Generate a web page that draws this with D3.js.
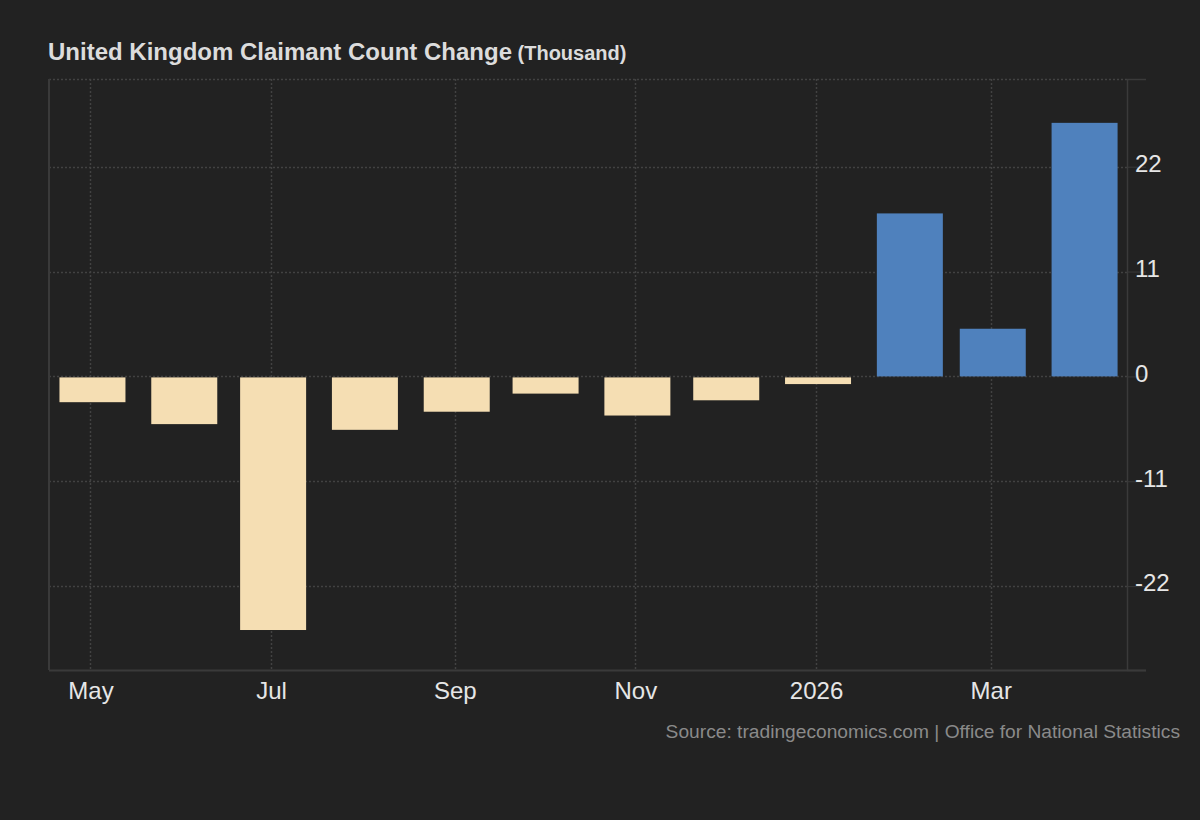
<!DOCTYPE html>
<head>
  <meta charset="utf-8">
  <title>UK Claimant Count Change</title>
  <style>
    body { margin: 0; background: #222222; }
    text { font-family: Arial, "Liberation Sans", sans-serif; }
  </style>
</head>

<script src="https://d3js.org/d3.v7.min.js"></script>

<div id="chart"></div>

<script>
  // monthly data, thousand
  const months = ["2025-05", "2025-06", "2025-07", "2025-08", "2025-09", "2025-10",
                  "2025-11", "2025-12", "2026-01", "2026-02", "2026-03", "2026-04"];
  const values = [-2.6, -4.9, -26.5, -5.5, -3.6, -1.7, -4.0, -2.4, -0.7, 17.1, 5.0, 26.6];
  const yTicks = [-22, -11, 0, 11, 22];
  const xTicks = ["2025-05", "2025-07", "2025-09", "2025-11", "2026-01", "2026-03"];

  const W = 1200, H = 820;
  const plotL = 49, plotR = 1127, plotT = 79, plotB = 670;

  const parse = d3.timeParse("%Y-%m");
  const data = months.map((m, i) => ({ date: parse(m), value: values[i] }));

  const svg = d3.select("#chart").append("svg")
    .attr("width", W)
    .attr("height", H);

  svg.append("rect")
    .attr("width", W).attr("height", H)
    .attr("fill", "#222222");

  const x = d3.scaleTime()
    .domain([new Date(2025, 3, 17), new Date(2026, 3, 16)])
    .range([plotL, plotR]);

  const y = d3.scaleLinear()
    .domain([-30.8, 31.2])
    .range([plotB, plotT]);

  // grid
  const grid = svg.append("g");
  grid.selectAll(".hg")
    .data(yTicks.concat([31.2]))
    .join("line")
      .attr("x1", plotL).attr("x2", plotR)
      .attr("y1", d => Math.round(y(d)) + 0.5).attr("y2", d => Math.round(y(d)) + 0.5)
      .attr("stroke", "#424242")
      .attr("stroke-width", 1.5)
      .attr("stroke-dasharray", "2,2");
  grid.selectAll(".vg")
    .data(xTicks.map(parse))
    .join("line")
      .attr("x1", d => Math.round(x(d)) + 0.5).attr("x2", d => Math.round(x(d)) + 0.5)
      .attr("y1", plotT).attr("y2", plotB)
      .attr("stroke", "#424242")
      .attr("stroke-width", 1.5)
      .attr("stroke-dasharray", "2,2");

  // left border
  svg.append("line")
    .attr("x1", plotL).attr("x2", plotL)
    .attr("y1", plotT).attr("y2", plotB)
    .attr("stroke", "#3a3a3a").attr("stroke-width", 2);

  // bars
  const barW = 66;
  svg.append("g")
    .selectAll("rect")
    .data(data)
    .join("rect")
      .attr("x", d => x(d.date) - barW / 2 + 2)
      .attr("width", barW)
      .attr("y", d => d.value >= 0 ? y(d.value) : y(0) + 1)
      .attr("height", d => Math.abs(y(d.value) - y(0)))
      .attr("fill", d => d.value >= 0 ? "#4f81bd" : "#f5deb3");

  // right axis
  const yAxis = svg.append("g")
    .attr("transform", `translate(${plotR},0)`)
    .call(d3.axisRight(y).tickValues(yTicks.concat([31.2, -30.8])).tickSize(19)
      .tickFormat(d => yTicks.includes(d) ? d : ""));
  yAxis.select(".domain").attr("stroke", "#3a3a3a").attr("stroke-width", 1.5);
  yAxis.selectAll(".tick line").attr("stroke", "#3a3a3a");
  yAxis.selectAll(".tick text")
    .attr("x", 8)
    .attr("dy", "0.2em")
    .attr("fill", "#e6e6e6")
    .attr("font-size", 24)
    .attr("font-family", "Arial, 'Liberation Sans', sans-serif");

  // bottom axis
  svg.append("line")
    .attr("x1", plotL).attr("x2", plotR + 19)
    .attr("y1", plotB + 0.5).attr("y2", plotB + 0.5)
    .attr("stroke", "#3a3a3a").attr("stroke-width", 2);

  const xAxis = svg.append("g")
    .attr("transform", `translate(0,${plotB})`)
    .call(d3.axisBottom(x).tickValues(xTicks.map(parse)).tickSize(0)
      .tickFormat(d => d.getMonth() === 0 ? d3.timeFormat("%Y")(d) : d3.timeFormat("%b")(d)));
  xAxis.select(".domain").remove();
  xAxis.selectAll(".tick text")
    .attr("y", 12)
    .attr("fill", "#e6e6e6")
    .attr("font-size", 24)
    .attr("font-family", "Arial, 'Liberation Sans', sans-serif");

  // title
  const title = svg.append("text")
    .attr("x", 48).attr("y", 60)
    .attr("fill", "#dcdcdc")
    .attr("font-weight", "bold");
  title.append("tspan").attr("font-size", 24).text("United Kingdom Claimant Count Change");
  title.append("tspan").attr("font-size", 20).text(" (Thousand)");

  // source
  svg.append("text")
    .attr("x", 1180).attr("y", 738)
    .attr("text-anchor", "end")
    .attr("fill", "#8a8a8a")
    .attr("font-size", 19.2)
    .text("Source: tradingeconomics.com | Office for National Statistics");
</script>
